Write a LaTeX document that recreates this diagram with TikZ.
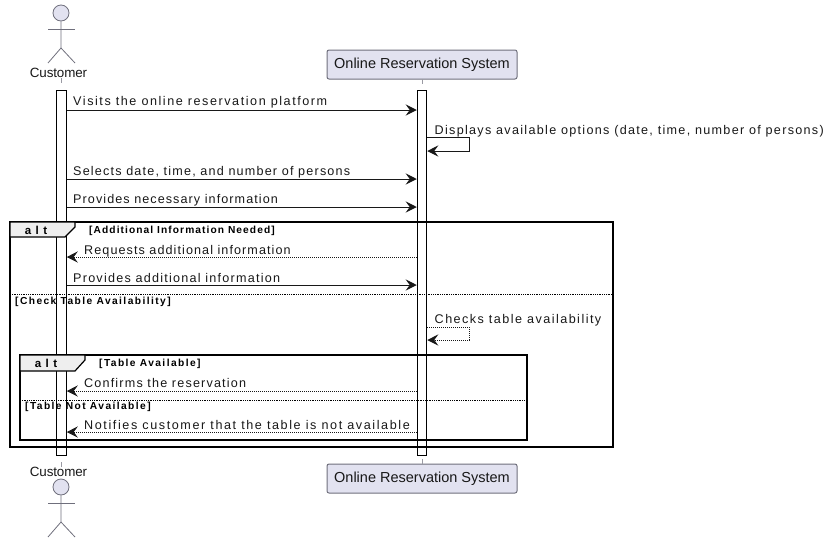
\documentclass[tikz,border=0pt]{standalone}
\usepackage{fontspec}
\setmainfont{Liberation Sans}
\usetikzlibrary{arrows.meta}
\definecolor{partfill}{HTML}{E2E2F0}
\definecolor{partline}{HTML}{6F6F7C}
\definecolor{tabfill}{HTML}{EEEEEE}
\definecolor{inkline}{HTML}{181818}
\newcommand{\msgfont}[1]{\fontsize{12.6}{14}\selectfont\addfontfeature{LetterSpace=#1}}
\newcommand{\guardfont}[1]{\fontsize{10.2}{12}\selectfont\bfseries\addfontfeature{LetterSpace=#1}}
\tikzset{
x=1pt, y=-1pt,
msg/.style={draw=inkline, line width=1pt, -{Stealth[length=11pt, width=11pt, inset=4pt]}}, % solid message
reply/.style={msg, densely dotted}, % dashed return message
msgtext/.style={anchor=base west, inner sep=0pt, text=inkline, font=\msgfont{#1}},
guard/.style={anchor=base west, inner sep=0pt, text=black, font=\guardfont{#1}},
partbox/.style={draw=partline, line width=1pt, fill=partfill, rounded corners=2pt, minimum width=190pt, minimum height=29pt, inner sep=0pt, font=\fontsize{14.5}{16}\selectfont, text=inkline},
actorname/.style={inner sep=0pt, font=\fontsize{13.4}{15}\selectfont\addfontfeature{LetterSpace=-1}, text=inkline},
bar/.style={draw=black, fill=white, minimum width=9.5pt, inner sep=0pt, line width=1pt},
stub/.style={draw=partline!70, line width=1pt},
limb/.style={draw=partline, line width=.8pt},
head/.style={circle, draw=partline, fill=partfill, minimum size=16pt, inner sep=0pt, line width=.8pt},
altframe/.style={draw=black, line width=2pt},
alttab/.style={draw=black, fill=tabfill, line width=1.2pt},
altsplit/.style={draw=black, line width=.8pt, densely dotted},
alttext/.style={inner sep=0pt, font=\fontsize{11.5}{13}\selectfont\bfseries\addfontfeature{LetterSpace=38}},
}
\begin{document}
\begin{tikzpicture}
\useasboundingbox (0,0) rectangle (830,544);

% participants
\node[partbox] (systop) at (422,64.5) {Online Reservation System};
\node[partbox] (sysbot) at (422,478.5) {Online Reservation System};
\node[actorname] (custtop) at (58.5,73) {Customer};
\node[actorname] (custbot) at (58.5,472) {Customer};

% actors
\node[head] (headtop) at (61,13) {};
\coordinate (armtopl) at (48,29);
\coordinate (armtopr) at (75,29);
\coordinate (hiptop) at (61,48);
\coordinate (legtopl) at (48,63);
\coordinate (legtopr) at (75,63);
\draw[limb] (headtop) -- (hiptop) -- (legtopl);
\draw[limb] (hiptop) -- (legtopr);
\draw[limb] (armtopl) -- (armtopr);
\node[head] (headbot) at (61,487) {};
\coordinate (armbotl) at (48,503);
\coordinate (armbotr) at (75,503);
\coordinate (hipbot) at (61,522);
\coordinate (legbotl) at (48,537);
\coordinate (legbotr) at (75,537);
\draw[limb] (headbot) -- (hipbot) -- (legbotl);
\draw[limb] (hipbot) -- (legbotr);
\draw[limb] (armbotl) -- (armbotr);

% activation bars
\node[bar, minimum height=365pt] (custbar) at (61.5,272.5) {};
\node[bar, minimum height=365pt] (sysbar) at (422,272.5) {};
\draw[stub] (custtop.south -| custbar) -- +(0,5);
\draw[stub] (custbot.north -| custbar) -- +(0,-5);
\draw[stub] (systop) ++(0,14.5) -- +(0,5);
\draw[stub] (sysbot) ++(0,-14.5) -- +(0,-5);

% message ends
\foreach \n/\y in {1/110, 2/179, 3/207, 4/257, 5/285, 6/391, 7/432} {
  \coordinate (c\n) at (custbar.east |- 0,\y);
  \coordinate (s\n) at (sysbar.west |- 0,\y);
}

% messages
\draw[msg] (c1) -- (s1);
\node[msgtext=12.3] (m1) at (73,105) {Visits the online reservation platform};
\draw[msg] (c2) -- (s2);
\node[msgtext=9.4] (m2) at (73,175) {Selects date, time, and number of persons};
\draw[msg] (c3) -- (s3);
\node[msgtext=8.5] (m3) at (73,203) {Provides necessary information};
\draw[reply] (s4) -- (c4);
\node[msgtext=8.5] (m4) at (84,254) {Requests additional information};
\draw[msg] (c5) -- (s5);
\node[msgtext=9.8] (m5) at (73,282) {Provides additional information};
\draw[reply] (s6) -- (c6);
\node[msgtext=9.3] (m6) at (84,387) {Confirms the reservation};
\draw[reply] (s7) -- (c7);
\node[msgtext=12.6] (m7) at (84,429) {Notifies customer that the table is not available};

% self messages
\draw[msg] (sysbar.east |- 0,137) -- (469,137) -- (469,151) -- (sysbar.east |- 0,151);
\node[msgtext=10.3] (m8) at (434.5,134) {Displays available options (date, time, number of persons)};
\draw[reply] (sysbar.east |- 0,327) -- (469,327) -- (469,340) -- (sysbar.east |- 0,340);
\node[msgtext=11.6] (m9) at (434.5,323) {Checks table availability};

% outer alt
\draw[altframe] (10,222) rectangle (613,447);
\draw[alttab] (10,222) -- (75,222) -- (75,227) -- (65,237) -- (10,237) -- cycle;
\node[alttext] (alt1) at (36,230) {alt};
\node[guard=10.6] (g1) at (89,233.5) {[Additional Information Needed]};
\draw[altsplit] (10,294) -- (613,294);
\node[guard=14.1] (g2) at (15,304.5) {[Check Table Availability]};

% inner alt
\draw[altframe] (20,355) rectangle (527,440);
\draw[alttab] (20,355) -- (85,355) -- (85,360) -- (75,371) -- (20,371) -- cycle;
\node[alttext] (alt2) at (46,363) {alt};
\node[guard=14] (g3) at (99,366.5) {[Table Available]};
\draw[altsplit] (20,400) -- (527,400);
\node[guard=14] (g4) at (25,409.5) {[Table Not Available]};

\end{tikzpicture}
\end{document}
